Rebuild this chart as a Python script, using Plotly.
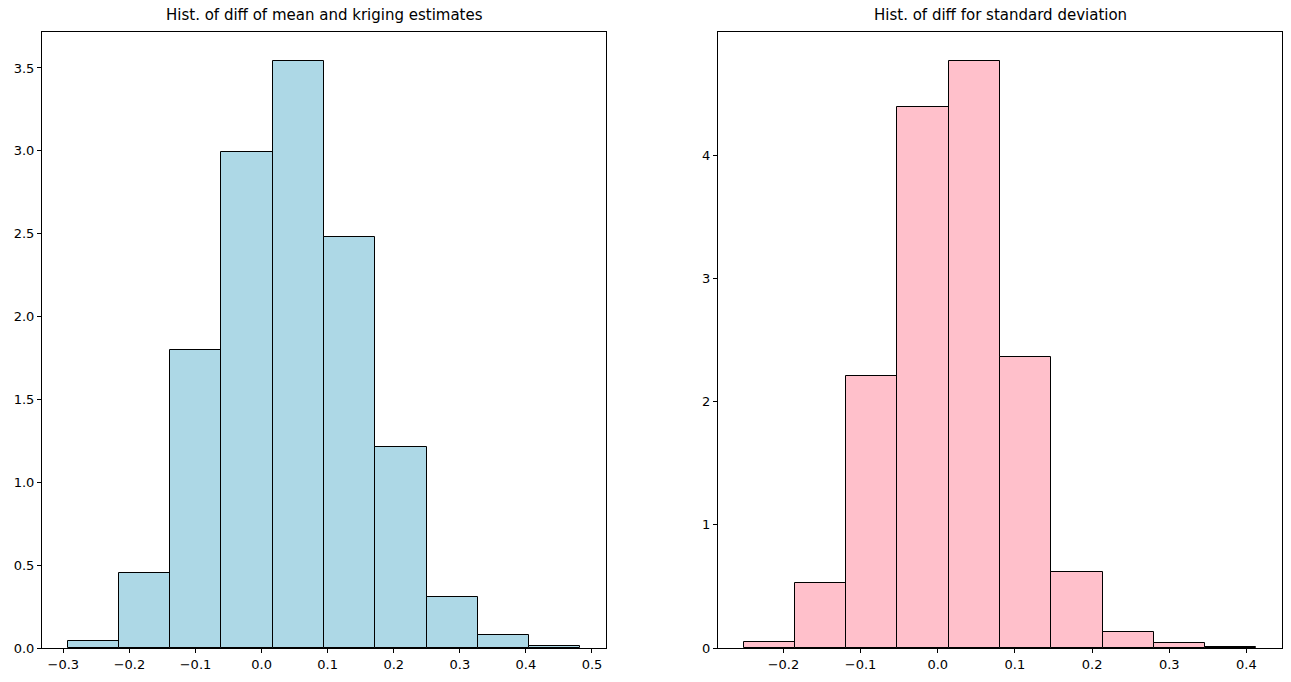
import numpy as np
import plotly.graph_objects as go

# Left histogram: diff of mean and kriging estimates (density)
left_edges = [-0.2935, -0.2159, -0.1383, -0.0607, 0.0169, 0.0945, 0.1721, 0.2496, 0.3272, 0.4048, 0.4824]
left_density = [0.04, 0.45, 1.80, 2.99, 3.54, 2.48, 1.21, 0.31, 0.08, 0.01]

# Right histogram: diff for standard deviation (density)
right_edges = [-0.2516, -0.1852, -0.1187, -0.0523, 0.0142, 0.0807, 0.1471, 0.2136, 0.2800, 0.3465, 0.4129]
right_density = [0.05, 0.53, 2.21, 4.39, 4.76, 2.36, 0.62, 0.13, 0.04, 0.005]

left_title = "Hist. of diff of mean and kriging estimates"
right_title = "Hist. of diff for standard deviation"
left_xticks = [-0.3, -0.2, -0.1, 0.0, 0.1, 0.2, 0.3, 0.4, 0.5]
left_yticks = [0.0, 0.5, 1.0, 1.5, 2.0, 2.5, 3.0, 3.5]
right_xticks = [-0.2, -0.1, 0.0, 0.1, 0.2, 0.3, 0.4]
right_yticks = [0, 1, 2, 3, 4]

W, H = 1291, 682
FONT = "DejaVu Sans"

def bars(edges, vals, color, xa, ya):
    e = np.array(edges)
    centers = (e[:-1] + e[1:]) / 2
    widths = e[1:] - e[:-1]
    return go.Bar(x=centers, y=vals, width=widths, marker=dict(color=color, line=dict(color="black", width=1)),
                  xaxis=xa, yaxis=ya, showlegend=False, hoverinfo="skip")

def xrange(edges):
    r = edges[-1] - edges[0]
    return [edges[0] - 0.05 * r, edges[-1] + 0.05 * r]

fig = go.Figure()
fig.add_trace(bars(left_edges, left_density, "#ADD8E6", "x", "y"))
fig.add_trace(bars(right_edges, right_density, "#FFC0CB", "x2", "y2"))

axis_common = dict(showgrid=False, zeroline=False, showline=True, linecolor="black", linewidth=1, mirror=True,
                   ticks="outside", ticklen=4, tickwidth=1, tickcolor="black", automargin=False,
                   tickfont=dict(family=FONT, size=13, color="black"))

ydom = [34 / H, 650 / H]
fig.update_layout(
    width=W, height=H, margin=dict(l=0, r=0, t=0, b=0, autoexpand=False),
    paper_bgcolor="white", plot_bgcolor="white", bargap=0,
    xaxis=dict(domain=[42 / W, 606 / W], range=xrange(left_edges), tickvals=left_xticks, tickformat=".1f", anchor="y", **axis_common),
    yaxis=dict(domain=ydom, range=[0, 1.05 * max(left_density)], tickvals=left_yticks, tickformat=".1f", anchor="x", **axis_common),
    xaxis2=dict(domain=[718 / W, 1282 / W], range=xrange(right_edges), tickvals=right_xticks, tickformat=".1f", anchor="y2", **axis_common),
    yaxis2=dict(domain=ydom, range=[0, 1.05 * max(right_density)], tickvals=right_yticks, tickformat="d", anchor="x2", **axis_common),
    annotations=[
        dict(text=left_title, x=(42 + 606) / 2 / W, y=(H - 32 + 6) / H, xref="paper", yref="paper",
             xanchor="center", yanchor="bottom", showarrow=False, font=dict(family=FONT, size=15, color="black")),
        dict(text=right_title, x=(718 + 1282) / 2 / W, y=(H - 32 + 6) / H, xref="paper", yref="paper",
             xanchor="center", yanchor="bottom", showarrow=False, font=dict(family=FONT, size=15, color="black")),
    ],
)

fig.write_html("out.html")
